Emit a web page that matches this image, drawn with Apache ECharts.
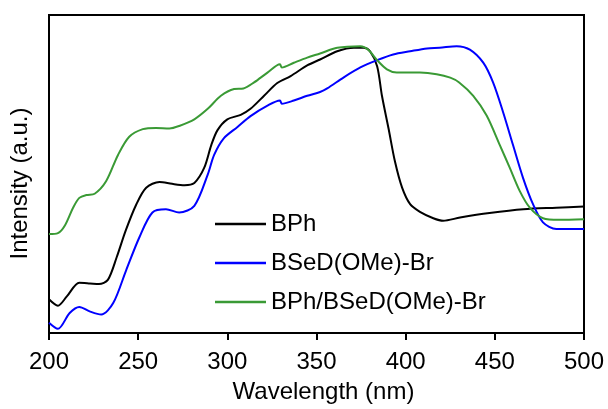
<!DOCTYPE html>
<html>
<head>
<meta charset="utf-8">
<script src="https://cdn.jsdelivr.net/npm/echarts@6/dist/echarts.min.js"></script>
<style>html,body{margin:0;padding:0;background:#fff}#c{width:608px;height:409px}</style>
</head>
<body>
<div id="c"></div>
<script>
const seriesNames = ['BPh', 'BSeD(OMe)-Br', 'BPh/BSeD(OMe)-Br'];
const xTicks = [200, 250, 300, 350, 400, 450, 500];

const bphX = [200,205,210,217,223,228,233,238,243,249,254.5,262,269,276,281.5,287,291,294.5,300,307.5,313,320.6,328,335.5,345,352,361.6,371,376.5,380,384,386.7,390.4,394,398,402.5,408,415.5,421,430.5,447,466,484.5,500];
const bphY = [10.6,8.6,11.5,15.8,15.6,15.4,16.7,23.9,32.2,40.5,45.7,47.5,46.9,46.5,47.2,51.9,59.1,63.8,67.2,68.6,70.5,74.6,78.6,80.8,84.2,86.0,88.6,89.7,89.7,88.6,83.9,74.6,64.3,53.9,45.7,40.5,38.1,36.1,35.3,36.3,37.7,38.9,39.4,39.8];

const bsedX = [200,205,211.6,217,222.8,229.3,236,243.3,250.7,258,265.6,273,281.5,289,292.6,298,305.7,313,322.5,329.5,330.5,337.3,344.8,352,356,365.3,374.6,384,393,402.5,412,419,428.6,436,443.5,449,454.6,460.2,465.8,471.4,477,484.5,500];
const bsedY = [3.2,1.3,6.3,8.2,6.8,5.8,9.4,19.8,30.1,37.9,38.9,37.9,40.0,49.8,56.0,61.2,64.8,68.2,71.5,73.1,72.1,73.1,74.6,75.8,76.9,80.4,83.5,85.8,87.6,88.6,89.5,89.7,90.2,89.1,85.0,78.8,69.5,59.1,48.8,40.5,34.8,32.7,32.7];

const mixX = [200,205,209,213.5,217,221,225.6,232,238.7,245,252.6,260,267.5,273,281.5,289,296.4,303.8,309,315,322.5,329.5,330.5,337.3,344.8,352,361.6,374.6,379,384,389.5,395,408,417.4,425,430,437.9,445.4,452.8,458.4,464,469.6,477,486,500];
const mixY = [31.1,31.4,33.9,39.4,42.5,43.4,43.8,47.7,56.0,61.7,64.1,64.5,64.3,65.1,67.2,70.5,74.6,76.7,76.9,78.8,81.9,84.5,83.5,85.0,86.6,87.9,89.7,90.2,89.1,85.8,82.9,81.9,81.9,81.4,80.3,78.8,74.6,68.4,59.1,51.9,44.6,39.4,36.1,35.6,35.8];

const colors = ['#000000', '#0000ff', '#3a9a35'];
const pairs = (xs, ys) => xs.map((x, i) => [x, ys[i]]);
const allData = [pairs(bphX, bphY), pairs(bsedX, bsedY), pairs(mixX, mixY)];

const chart = echarts.init(document.getElementById('c'), null, {renderer: 'canvas'});
const font = 'Liberation Sans, Arial, sans-serif';
chart.setOption({
  animation: false,
  grid: {left: 47.5, right: 24, top: 15, bottom: 72, show: true, borderColor: '#000', borderWidth: 2, backgroundColor: 'transparent'},
  legend: {
    orient: 'vertical', left: 215, top: 212, padding: 0, itemWidth: 51, itemHeight: 2.5, itemGap: 15,
    icon: 'rect',
    textStyle: {fontFamily: font, fontSize: 24, color: '#000'},
    data: seriesNames
  },
  xAxis: {
    type: 'value', min: xTicks[0], max: xTicks[xTicks.length-1], interval: 50,
    name: 'Wavelength (nm)', nameLocation: 'middle', nameGap: 47,
    nameTextStyle: {fontFamily: font, fontSize: 24, color: '#000', padding: [0,0,0,14]},
    axisLine: {lineStyle: {color: '#000', width: 2}},
    axisTick: {show: true, inside: false, length: 7, lineStyle: {color: '#000', width: 2}},
    axisLabel: {fontFamily: font, fontSize: 24, color: '#000', margin: 17},
    splitLine: {show: false}
  },
  yAxis: {
    type: 'value', min: 0, max: 100,
    name: 'Intensity (a.u.)', nameLocation: 'middle', nameGap: 17, nameRotate: 90,
    nameTextStyle: {fontFamily: font, fontSize: 24, color: '#000', padding: [0,19,0,0]},
    axisLine: {show: true, lineStyle: {color: '#000', width: 2}},
    axisTick: {show: false}, axisLabel: {show: false}, splitLine: {show: false}
  },
  series: seriesNames.map((n, i) => ({
    name: n, type: 'line', data: allData[i], showSymbol: false, symbol: 'none',
    smooth: 0.3,
    lineStyle: {color: colors[i], width: 2}, itemStyle: {color: colors[i]}
  }))
});
</script>
</body>
</html>
